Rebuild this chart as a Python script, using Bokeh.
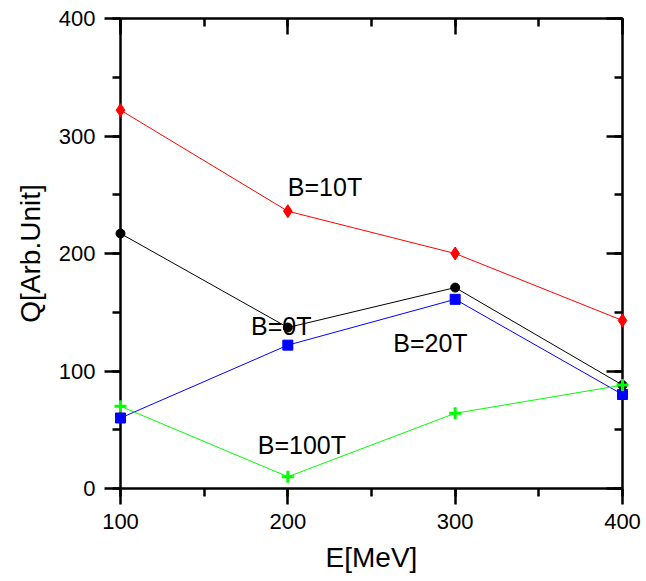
from bokeh.plotting import figure
from bokeh.models import Range1d, LinearAxis, SingleIntervalTicker, ColumnDataSource
from bokeh.embed import file_html
from bokeh.resources import INLINE
from bokeh.core.properties import value

# Data
energy = [100, 200, 300, 400]
q_b0 = [217, 137, 171, 88]
q_b10 = [322, 236, 200, 143]
q_b20 = [60, 122, 161, 80]
q_b100 = [70, 10, 64, 88]

label_text = ["B=10T", "B=0T", "B=20T", "B=100T"]
label_x = [200, 178, 263, 182]
label_y = [257, 138, 124, 37]

FONT = "Liberation Sans"

p = figure(width=646, height=581, output_backend="svg", toolbar_location=None,
           x_range=Range1d(100, 400), y_range=Range1d(0, 400),
           x_axis_type=None, y_axis_type=None,
           frame_width=502, frame_height=470,
           min_border_left=120, min_border_right=24, min_border_top=18, min_border_bottom=93)
p.outline_line_color = None
p.xgrid.visible = False
p.ygrid.visible = False
p.background_fill_color = "white"
p.border_fill_color = "white"


def make_axis(outer, labelled, label=""):
    ax = LinearAxis(ticker=SingleIntervalTicker(interval=100, num_minor_ticks=2))
    ax.axis_line_width = 2.5
    ax.major_tick_line_width = 2.5
    ax.minor_tick_line_width = 2.5
    if outer:
        ax.major_tick_out = 16
        ax.major_tick_in = 0
        ax.minor_tick_out = 8
        ax.minor_tick_in = 0
    else:
        ax.major_tick_out = 0
        ax.major_tick_in = 16
        ax.minor_tick_out = 0
        ax.minor_tick_in = 8
    if labelled:
        ax.major_label_text_font = FONT
        ax.major_label_text_font_size = "22px"
        ax.major_label_text_color = "black"
        ax.major_label_standoff = 9
        ax.axis_label = label
        ax.axis_label_text_font = FONT
        ax.axis_label_text_font_size = "28px"
        ax.axis_label_text_font_style = "normal"
        ax.axis_label_text_color = "black"
        ax.axis_label_standoff = 10
    else:
        ax.major_label_text_font_size = "0px"
        ax.major_label_text_alpha = 0
    return ax


p.add_layout(make_axis(True, True, "E[MeV]"), "below")
p.add_layout(make_axis(True, True, "Q[Arb.Unit]"), "left")
p.add_layout(make_axis(False, False), "above")
p.add_layout(make_axis(False, False), "right")

# series
p.line(energy, q_b0, line_color="black", line_width=1)
p.line(energy, q_b10, line_color="red", line_width=1)
p.line(energy, q_b20, line_color="blue", line_width=1)
p.line(energy, q_b100, line_color="#00ff00", line_width=1)

m0 = p.scatter(energy, q_b0, marker="circle", size=9, fill_color="black", line_color="black")
m10 = p.scatter(energy, q_b10, marker="diamond", size=13, fill_color="red", line_color="red")
m20 = p.scatter(energy, q_b20, marker="square", size=10, fill_color="blue", line_color="blue")
m100 = p.scatter(energy, q_b100, marker="cross", size=12, line_color="#00ff00", line_width=3)
for r in (m0, m10, m20, m100):
    r.level = "overlay"

src = ColumnDataSource(dict(x=label_x, y=label_y, t=label_text))
p.text(x="x", y="y", text="t", source=src, text_font=value(FONT), text_font_size="25px",
       text_color="black", text_align="left", text_baseline="alphabetic")

open("out.html", "w").write(file_html(p, INLINE))
